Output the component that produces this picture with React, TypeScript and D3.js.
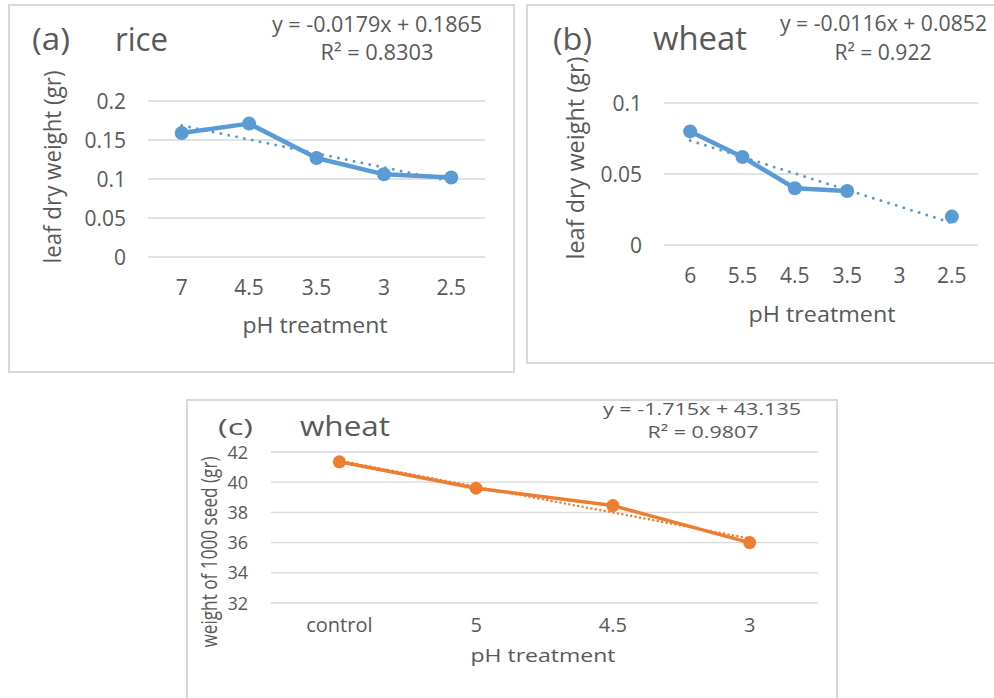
import * as d3 from "d3"

// (a) rice leaf dry weight
const riceCategories = ["7", "4.5", "3.5", "3", "2.5"]
const riceValues = [0.159, 0.171, 0.127, 0.106, 0.102]
const riceTicks = [0, 0.05, 0.1, 0.15, 0.2]
const riceTrend = { slope: -0.0179, intercept: 0.1865 }

// (b) wheat leaf dry weight (no value at pH 3)
const wheatCategories = ["6", "5.5", "4.5", "3.5", "3", "2.5"]
const wheatValues: (number | null)[] = [0.08, 0.062, 0.04, 0.038, null, 0.02]
const wheatTicks = [0, 0.05, 0.1]
const wheatTrend = { slope: -0.0116, intercept: 0.0852 }

// (c) wheat weight of 1000 seed
const seedCategories = ["control", "5", "4.5", "3"]
const seedValues = [41.35, 39.6, 38.45, 36.0]
const seedTicks = [32, 34, 36, 38, 40, 42]
const seedTrend = { slope: -1.715, intercept: 43.135 }

const GREY = "#595959"
const GRID = "#d9d9d9"
const FONT = "'Open Sans', sans-serif"
const BLUE = "#5b9bd5"
const ORANGE = "#ed7d31"

function Label({ x, y, size, anchor = "start", len, rotate, children }: any) {
  return (
    <text
      x={x}
      y={y}
      fontSize={size}
      textAnchor={anchor}
      fill={GREY}
      fontFamily={FONT}
      textLength={len}
      lengthAdjust={len ? "spacingAndGlyphs" : undefined}
      transform={rotate ? `rotate(-90 ${x} ${y})` : undefined}
    >
      {children}
    </text>
  )
}

interface PanelProps {
  categories: string[]
  values: (number | null)[]
  ticks: number[]
  trend: { slope: number; intercept: number }
  plot: { left: number; right: number; top: number; bottom: number }
  color: string
  lineWidth: number
  markerR: number
  trendWidth: number
  trendDash: string
  tickSize: number
  tickX: number
  tickDy: number
  xLabelY: number
  xLabelSize: number
}

function LinePanel(p: PanelProps) {
  const x = d3.scalePoint<string>().domain(p.categories).range([p.plot.left, p.plot.right]).padding(0.5)
  const xi = d3.scaleLinear().domain([0.5, p.categories.length + 0.5]).range([p.plot.left, p.plot.right])
  const y = d3.scaleLinear().domain([p.ticks[0], p.ticks[p.ticks.length - 1]]).range([p.plot.bottom, p.plot.top])

  const pts = p.values.map((v, i) => ({ cat: p.categories[i], v }))
  const line = d3.line<{ cat: string; v: number | null }>()
    .defined(d => d.v !== null)
    .x(d => x(d.cat)!)
    .y(d => y(d.v as number))

  const trendLine = d3.line<number>()
    .x(i => xi(i))
    .y(i => y(p.trend.slope * i + p.trend.intercept))

  return (
    <g>
      {p.ticks.map(t => (
        <line key={t} x1={p.plot.left} x2={p.plot.right} y1={y(t)} y2={y(t)} stroke={GRID} strokeWidth={1.3} />
      ))}
      {p.ticks.map(t => (
        <Label key={t} x={p.tickX} y={y(t) + p.tickDy} size={p.tickSize} anchor="end">{String(t)}</Label>
      ))}
      {p.categories.map(c => (
        <Label key={c} x={x(c)} y={p.xLabelY} size={p.xLabelSize} anchor="middle">{c}</Label>
      ))}
      <path d={line(pts) || ""} fill="none" stroke={p.color} strokeWidth={p.lineWidth} strokeLinejoin="round" />
      {pts.filter(d => d.v !== null).map(d => (
        <circle key={d.cat} cx={x(d.cat)} cy={y(d.v as number)} r={p.markerR} fill={p.color} />
      ))}
      <path
        d={trendLine([1, p.categories.length]) || ""}
        fill="none"
        stroke={p.color}
        strokeWidth={p.trendWidth}
        strokeDasharray={p.trendDash}
        strokeLinecap="round"
      />
    </g>
  )
}

export default function App() {
  return (
    <svg width={994} height={698} style={{ position: "absolute", left: 0, top: 0, background: "#fff" }}>
      {/* frames */}
      <rect x={9} y={5} width={505} height={367} fill="#fff" stroke={GRID} strokeWidth={2} />
      <rect x={527} y={5} width={480} height={358} fill="#fff" stroke={GRID} strokeWidth={2} />
      <rect x={187} y={400} width={650} height={320} fill="#fff" stroke={GRID} strokeWidth={2} />

      {/* (a) rice */}
      <LinePanel
        categories={riceCategories}
        values={riceValues}
        ticks={riceTicks}
        trend={riceTrend}
        plot={{ left: 148, right: 485, top: 101, bottom: 257 }}
        color={BLUE}
        lineWidth={4.5}
        markerR={7}
        trendWidth={3}
        trendDash="0 8"
        tickSize={21}
        tickX={126}
        tickDy={7.5}
        xLabelY={295}
        xLabelSize={21}
      />
      <Label x={32} y={50} size={31} len={38}>(a)</Label>
      <Label x={115} y={51} size={32} len={53}>rice</Label>
      <Label x={482} y={32} size={21} anchor="end" len={210}>y = -0.0179x + 0.1865</Label>
      <Label x={377} y={60} size={21} anchor="middle" len={113}>R² = 0.8303</Label>
      <Label x={315} y={333} size={22} anchor="middle" len={145}>pH treatment</Label>
      <Label x={61} y={167} size={23} anchor="middle" len={193} rotate>leaf dry weight (gr)</Label>

      {/* (b) wheat */}
      <LinePanel
        categories={wheatCategories}
        values={wheatValues}
        ticks={wheatTicks}
        trend={wheatTrend}
        plot={{ left: 664, right: 978, top: 103, bottom: 245 }}
        color={BLUE}
        lineWidth={4.5}
        markerR={7}
        trendWidth={3}
        trendDash="0 8"
        tickSize={21}
        tickX={642}
        tickDy={7.5}
        xLabelY={283}
        xLabelSize={21}
      />
      <Label x={553} y={50} size={31} len={39}>(b)</Label>
      <Label x={653} y={50} size={32} len={94}>wheat</Label>
      <Label x={987} y={31} size={21} anchor="end" len={207}>y = -0.0116x + 0.0852</Label>
      <Label x={883} y={60} size={21} anchor="middle" len={97}>R² = 0.922</Label>
      <Label x={822} y={322} size={22} anchor="middle" len={147}>pH treatment</Label>
      <Label x={584} y={158} size={23} anchor="middle" len={203} rotate>leaf dry weight (gr)</Label>

      {/* (c) wheat seed */}
      <LinePanel
        categories={seedCategories}
        values={seedValues}
        ticks={seedTicks}
        trend={seedTrend}
        plot={{ left: 271, right: 818, top: 452, bottom: 603 }}
        color={ORANGE}
        lineWidth={3.5}
        markerR={6.5}
        trendWidth={2.5}
        trendDash="0 4.5"
        tickSize={18}
        tickX={248}
        tickDy={6.5}
        xLabelY={632}
        xLabelSize={20}
      />
      <Label x={218} y={435} size={22} len={35}>(c)</Label>
      <Label x={300} y={436} size={27} len={90}>wheat</Label>
      <Label x={801} y={415} size={17} anchor="end" len={198}>y = -1.715x + 43.135</Label>
      <Label x={703} y={438} size={17} anchor="middle" len={111}>R² = 0.9807</Label>
      <Label x={543} y={662} size={19} anchor="middle" len={145}>pH treatment</Label>
      <Label x={217} y={552} size={21} anchor="middle" len={191} rotate>weight of 1000 seed (gr)</Label>
    </svg>
  )
}
